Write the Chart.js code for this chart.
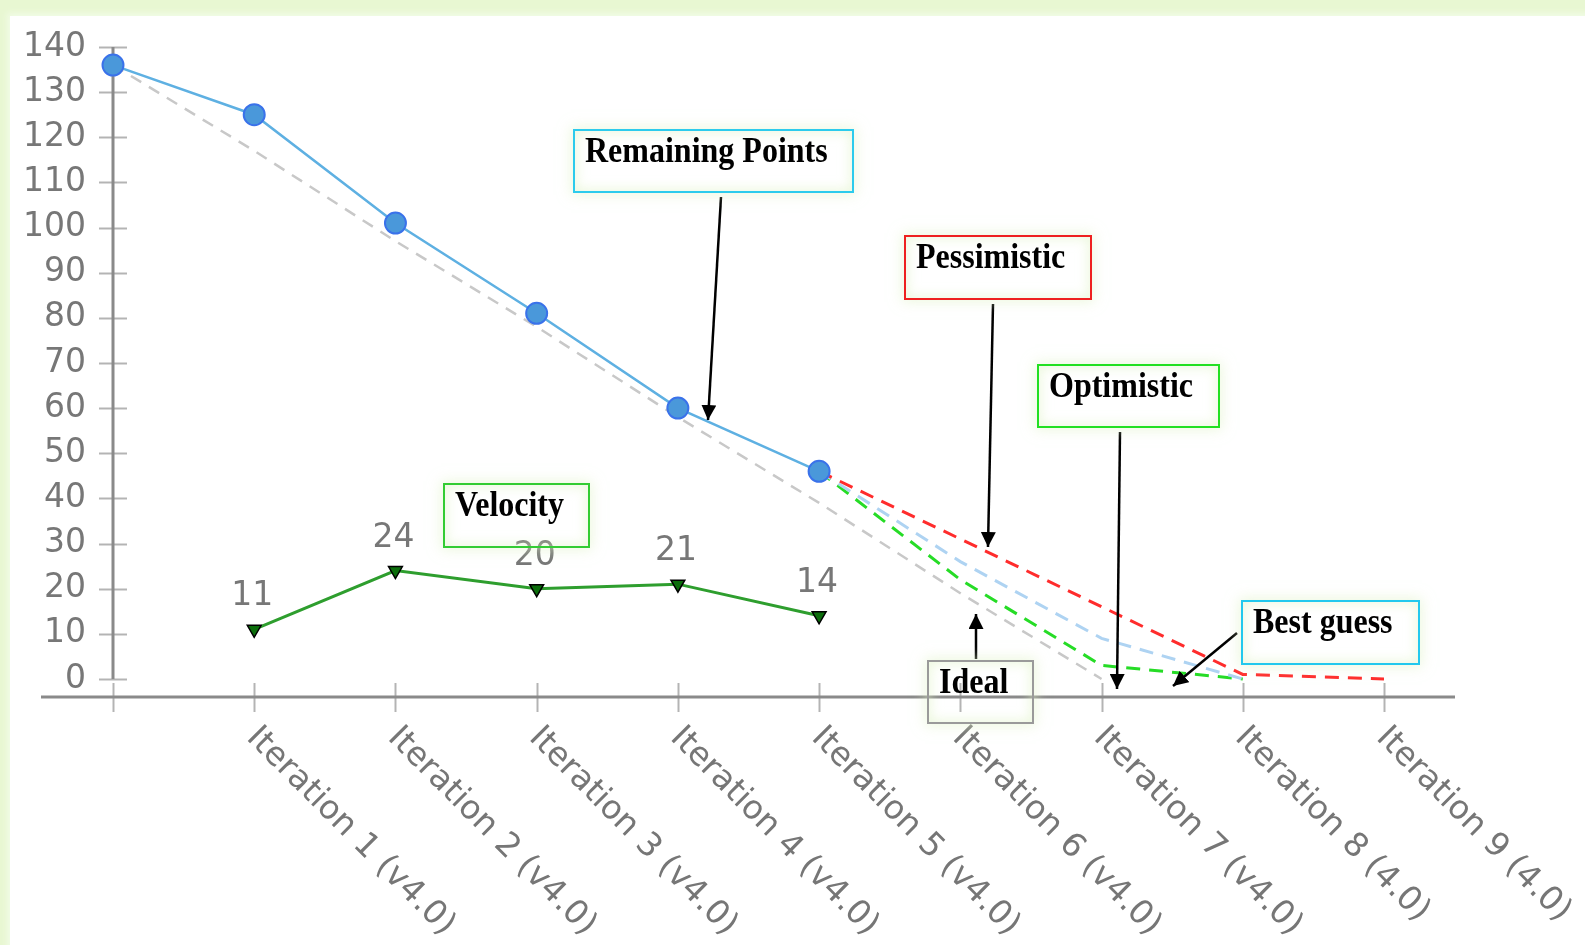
<!DOCTYPE html>
<html lang="en">
<head>
  <meta charset="UTF-8" />
  <title>Release Burndown</title>
  <style>
    body {
      margin: 0;
      width: 1585px;
      height: 945px;
      overflow: hidden;
      position: relative;
      background-color: #e8f7d2;
      font-family: "DejaVu Sans", sans-serif;
    }

    .panel {
      position: absolute;
      left: 10px;
      top: 16px;
      width: 1600px;
      height: 960px;
      background-color: white;
      box-shadow: 0 0 6px 3px #f1fbe6;
    }

    #burndown {
      position: absolute;
      left: 0;
      top: 0;
    }

    .note {
      position: absolute;
      box-sizing: border-box;
      border: 2px solid #999;
      padding: 0 10px;
      font-family: "Liberation Serif", "Times New Roman", serif;
      font-weight: bold;
      font-size: 32px;
      line-height: 40px;
      color: #000;
      box-shadow: 0 0 12px 2px rgba(222, 242, 196, 0.55), inset 0 0 12px 2px rgba(222, 242, 196, 0.55);
    }

    .note span {
      display: inline-block;
      transform: scaleY(1.12);
      transform-origin: 50% 75%;
    }

    svg {
      position: absolute;
      left: 0;
      top: 0;
    }
  </style>
</head>
<body>
  <div class="panel"></div>
  <canvas id="burndown" width="1585" height="945"></canvas>

  <svg width="1585" height="945">
    <defs>
      <marker id="head" viewBox="0 0 10 10" refX="10" refY="5" markerWidth="6" markerHeight="6" orient="auto">
        <path d="M0,0 L10,5 L0,10 z" fill="#000" />
      </marker>
    </defs>
    <g stroke="#000" stroke-width="2.5" marker-end="url(#head)">
      <line x1="721" y1="197" x2="708" y2="420" />
      <line x1="993" y1="304" x2="988" y2="547" />
      <line x1="1120" y1="432" x2="1117" y2="689" />
      <line x1="1237" y1="633" x2="1173" y2="686" />
      <line x1="976" y1="659" x2="976" y2="614" />
    </g>
  </svg>

  <div class="note" style="left:573px; top:129px; width:281px; height:64px; border-color:#2ccbed;"><span>Remaining Points</span></div>
  <div class="note" style="left:904px; top:235px; width:188px; height:65px; border-color:#ee2020;"><span>Pessimistic</span></div>
  <div class="note" style="left:1037px; top:364px; width:183px; height:64px; border-color:#22e022;"><span>Optimistic</span></div>
  <div class="note" style="left:443px; top:483px; width:147px; height:65px; border-color:#33cc33;"><span>Velocity</span></div>
  <div class="note" style="left:1241px; top:600px; width:179px; height:65px; border-color:#22c8ee;"><span>Best guess</span></div>
  <div class="note" style="left:927px; top:660px; width:107px; height:64px; border-color:#9a9a9a;"><span>Ideal</span></div>

  <script src="https://cdn.jsdelivr.net/npm/chart.js"></script>
  <script>
    // values
    const iterations = ['', 'Iteration 1 (v4.0)', 'Iteration 2 (v4.0)', 'Iteration 3 (v4.0)',
      'Iteration 4 (v4.0)', 'Iteration 5 (v4.0)', 'Iteration 6 (v4.0)', 'Iteration 7 (v4.0)',
      'Iteration 8 (4.0)', 'Iteration 9 (4.0)'];
    const remaining   = [136, 125, 101, 81, 60, 46, null, null, null, null];
    const ideal       = [136, 117, 97, 78, 58, 39, 19, 0, null, null];
    const velocity    = [null, 11, 24, 20, 21, 14, null, null, null, null];
    const pessimistic = [null, null, null, null, null, 46, 31, 16, 1, 0];
    const bestGuess   = [null, null, null, null, null, 46, 26, 9, 0, null];
    const optimistic  = [null, null, null, null, null, 46, 22, 3, 0, null];
    const yTicks = [0, 10, 20, 30, 40, 50, 60, 70, 80, 90, 100, 110, 120, 130, 140];

    const tickFont = '33px "DejaVu Sans"';

    // axis lines, crossing tick marks and slanted labels
    const axesPlugin = {
      id: 'axesPlugin',
      beforeDatasetsDraw(chart) {
        const { ctx, chartArea, scales: { x, y } } = chart;
        ctx.save();
        ctx.lineCap = 'butt';

        ctx.strokeStyle = '#b4b4b4';
        ctx.lineWidth = 2;
        yTicks.forEach(v => {
          const py = Math.round(y.getPixelForValue(v)) + 0.5;
          ctx.beginPath();
          ctx.moveTo(chartArea.left - 14, py);
          ctx.lineTo(chartArea.left + 14, py);
          ctx.stroke();
        });
        iterations.forEach((lbl, i) => {
          const px = Math.round(x.getPixelForValue(i)) + 0.5;
          ctx.beginPath();
          ctx.moveTo(px, chartArea.bottom - 14);
          ctx.lineTo(px, chartArea.bottom + 15);
          ctx.stroke();
        });

        ctx.strokeStyle = '#8a8a8a';
        ctx.lineWidth = 3;
        ctx.beginPath();
        ctx.moveTo(chartArea.left, y.getPixelForValue(0));
        ctx.lineTo(chartArea.left, y.getPixelForValue(140));
        ctx.stroke();
        ctx.beginPath();
        ctx.moveTo(chartArea.left - 72, chartArea.bottom);
        ctx.lineTo(chartArea.right + 71, chartArea.bottom);
        ctx.stroke();

        ctx.fillStyle = '#767676';
        ctx.font = tickFont;
        ctx.textAlign = 'left';
        ctx.textBaseline = 'top';
        iterations.forEach((lbl, i) => {
          if (!lbl) return;
          ctx.save();
          ctx.translate(x.getPixelForValue(i) + 9, chartArea.bottom + 24);
          ctx.rotate(Math.PI / 4);
          ctx.fillText(lbl, 0, 0);
          ctx.restore();
        });
        ctx.restore();
      }
    };

    // value labels above the velocity markers
    const velocityLabels = {
      id: 'velocityLabels',
      afterDatasetsDraw(chart) {
        const { ctx } = chart;
        const meta = chart.getDatasetMeta(1);
        ctx.save();
        ctx.fillStyle = '#777';
        ctx.font = tickFont;
        ctx.textAlign = 'center';
        ctx.textBaseline = 'alphabetic';
        meta.data.forEach((pt, i) => {
          if (velocity[i] == null) return;
          ctx.fillText(String(velocity[i]), pt.x - 2, pt.y - 24);
        });
        ctx.restore();
      }
    };

    new Chart(document.getElementById('burndown'), {
      type: 'line',
      data: {
        labels: iterations,
        datasets: [
          {
            label: 'Remaining Points',
            data: remaining,
            borderColor: '#5eb0e2',
            borderWidth: 2.5,
            pointRadius: 10.5,
            pointBackgroundColor: '#4a98da',
            pointBorderColor: '#3a72ea',
            pointBorderWidth: 2,
            tension: 0
          },
          {
            label: 'Velocity',
            data: velocity,
            borderColor: '#2e9e2e',
            borderWidth: 3,
            pointStyle: 'triangle',
            rotation: 180,
            pointRadius: 8,
            pointBackgroundColor: '#0b6e0b',
            pointBorderColor: '#000',
            pointBorderWidth: 1.5,
            tension: 0
          },
          {
            label: 'Pessimistic',
            data: pessimistic,
            borderColor: '#ff2c2c',
            borderWidth: 3,
            borderDash: [14, 9],
            pointRadius: 0
          },
          {
            label: 'Best guess',
            data: bestGuess,
            borderColor: '#aed3f2',
            borderWidth: 3,
            borderDash: [14, 9],
            pointRadius: 0
          },
          {
            label: 'Optimistic',
            data: optimistic,
            borderColor: '#26dc26',
            borderWidth: 3,
            borderDash: [14, 9],
            pointRadius: 0
          },
          {
            label: 'Ideal',
            data: ideal,
            borderColor: '#c8c8c8',
            borderWidth: 2.5,
            borderDash: [12, 9],
            pointRadius: 0
          }
        ]
      },
      options: {
        responsive: false,
        animation: false,
        layout: { padding: { left: 0, right: 201, top: 47, bottom: 0 } },
        plugins: {
          legend: { display: false },
          tooltip: { enabled: false }
        },
        scales: {
          x: {
            offset: false,
            grid: { display: false, drawTicks: false },
            border: { display: false },
            ticks: { display: false },
            afterFit: s => { s.height = 248; }
          },
          y: {
            min: -4,
            max: 140,
            grid: { display: false, drawTicks: false },
            border: { display: false },
            ticks: {
              color: '#777',
              padding: 27,
              font: { family: 'DejaVu Sans', size: 33 }
            },
            afterBuildTicks: s => { s.ticks = yTicks.map(v => ({ value: v })); },
            afterFit: s => { s.width = 113; }
          }
        }
      },
      plugins: [axesPlugin, velocityLabels]
    });
  </script>
</body>
</html>
